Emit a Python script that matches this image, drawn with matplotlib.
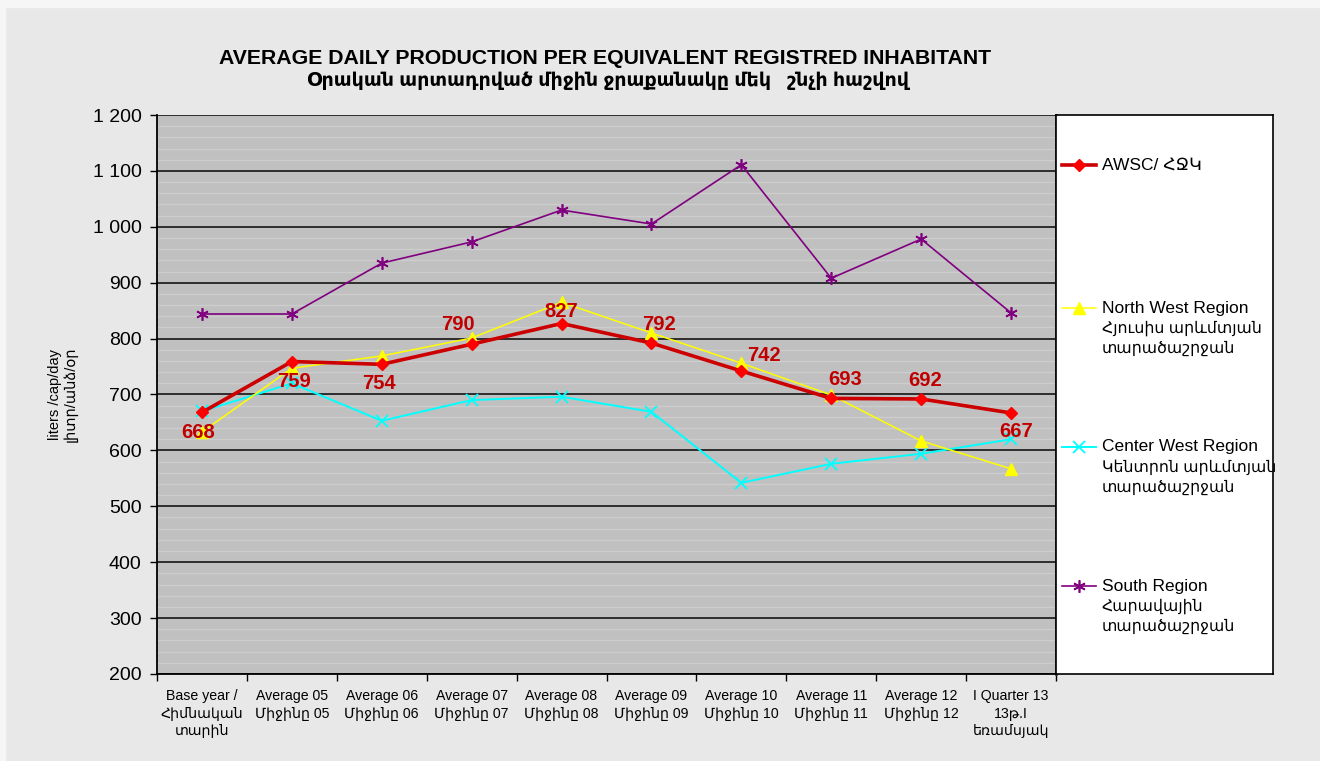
import matplotlib
matplotlib.use('Agg')
import matplotlib.pyplot as plt
from matplotlib.patches import Rectangle
from matplotlib.ticker import MultipleLocator, FixedLocator, NullFormatter

# data
categories = ['Base year /\nՀիմնական\nտարին', 'Average 05\nՄիջինը 05', 'Average 06\nՄիջինը 06',
              'Average 07\nՄիջինը 07', 'Average 08\nՄիջինը 08', 'Average 09\nՄիջինը 09',
              'Average 10\nՄիջինը 10', 'Average 11\nՄիջինը 11', 'Average 12\nՄիջինը 12',
              'I Quarter 13\n13թ.I\nեռամսյակ']
awsc = [668, 759, 754, 790, 827, 792, 742, 693, 692, 667]
north_west = [633, 747, 769, 801, 865, 810, 756, 699, 617, 567]
center_west = [670, 720, 653, 690, 696, 669, 542, 576, 594, 620]
south = [844, 844, 935, 973, 1030, 1005, 1111, 908, 978, 846]
series_names = ['AWSC/ ՀՋԿ',
                'North West Region\nՀյուսիս արևմտյան\nտարածաշրջան',
                'Center West Region\nԿենտրոն արևմտյան\nտարածաշրջան',
                'South Region\nՀարավային\nտարածաշրջան']
yticks = [200, 300, 400, 500, 600, 700, 800, 900, 1000, 1100, 1200]
ytick_labels = ['200', '300', '400', '500', '600', '700', '800', '900', '1 000', '1 100', '1 200']

W, H = 1320, 761
fig = plt.figure(figsize=(W / 100, H / 100), dpi=100)
fig.patch.set_facecolor('#e8e8e8')
# thin white margin top/left like the source picture
fig.add_artist(Rectangle((0, 1 - 7 / H), 1, 7 / H, transform=fig.transFigure, color='#f6f6f6', zorder=0))
fig.add_artist(Rectangle((0, 0), 5 / W, 1, transform=fig.transFigure, color='#f6f6f6', zorder=0))

sans = ['Liberation Sans', 'DejaVu Sans']

x0, x1, y0, y1 = 157, 1056, 115, 674
ax = fig.add_axes([x0 / W, 1 - y1 / H, (x1 - x0) / W, (y1 - y0) / H])
ax.set_facecolor('#c0c0c0')

x = list(range(len(categories)))
styles = [
    dict(color='#cc0000', lw=2.6, marker='D', ms=6, mfc='#ff0000', mec='#ff0000', zorder=6),
    dict(color='#ffff00', lw=1.1, marker='^', ms=8, mfc='#ffff00', mec='#ffff00', zorder=5),
    dict(color='#00ffff', lw=1.4, marker='x', ms=8, mew=1.3, zorder=4),
    dict(color='#800080', lw=1.2, marker=(6, 2, 0), ms=9, mew=1.2, zorder=3),
]
all_series = [awsc, north_west, center_west, south]
for vals, st in zip(all_series, styles):
    ax.plot(x, vals, **st)

ax.set_xlim(-0.5, len(categories) - 0.5)
ax.set_ylim(200, 1200)
ax.set_yticks(yticks, labels=ytick_labels, fontsize=14, family=sans)
ax.yaxis.set_minor_locator(MultipleLocator(20))
ax.grid(which='minor', axis='y', color='#cdcdcd', lw=1.0, zorder=0)
ax.grid(which='major', axis='y', color='#222222', lw=1.3, zorder=1)
ax.set_axisbelow(True)
ax.tick_params(axis='y', which='minor', length=0)
ax.tick_params(axis='y', which='major', length=5, width=1, direction='out', pad=6)

# category labels between boundary ticks
ax.xaxis.set_major_locator(FixedLocator([i + 0.5 for i in range(-1, len(categories))]))
ax.xaxis.set_major_formatter(NullFormatter())
ax.xaxis.set_minor_locator(FixedLocator(x))
ax.set_xticklabels(categories, minor=True, fontsize=10.2, family=sans, linespacing=1.3)
ax.tick_params(axis='x', which='major', length=5, width=1, direction='out')
ax.tick_params(axis='x', which='minor', length=0, pad=11)

for s in ['left', 'bottom']:
    ax.spines[s].set_color('black')
    ax.spines[s].set_linewidth(1.3)
ax.spines['top'].set_visible(False)
ax.spines['right'].set_color('#444444')
ax.spines['right'].set_linewidth(2)

ax.set_ylabel('liters /cap/day\nլիտր/անձ/օր', fontsize=10.5, family=sans, labelpad=11, linespacing=1.1)

# data labels for AWSC
label_offsets = [(-4, -20), (2, -20), (-3, -19), (-14, 20), (0, 12),
                 (8, 19), (23, 16), (14, 19), (4, 18), (5, -19)]
for xi, v, (dx, dy) in zip(x, awsc, label_offsets):
    ax.annotate(str(v), (xi, v), xytext=(dx * 0.72, dy * 0.72), textcoords='offset points',
                ha='center', va='center', fontsize=14.5, fontweight='bold',
                color='#c00000', family=sans, zorder=10)

# title
fig.text(605 / W, 1 - 58 / H, 'AVERAGE DAILY PRODUCTION PER EQUIVALENT REGISTRED INHABITANT',
         ha='center', va='center', fontsize=15.3, fontweight='bold', family=sans)
fig.text(608 / W, 1 - 81 / H, 'Օրական արտադրված միջին ջրաքանակը մեկ   շնչի հաշվով',
         ha='center', va='center', fontsize=13.7, fontweight='bold', family=sans)

# legend box
lx0, lx1 = 1056, 1273
lax = fig.add_axes([lx0 / W, 1 - y1 / H, (lx1 - lx0) / W, (y1 - y0) / H])
lax.set_facecolor('white')
lax.set_xlim(lx0, lx1)
lax.set_ylim(y1, y0)
lax.set_xticks([])
lax.set_yticks([])
for s in lax.spines.values():
    s.set_color('black')
    s.set_linewidth(1.2)
entry_y = [165, 308, 447, 586]
for name, st, ey in zip(series_names, styles, entry_y):
    lax.plot([1062, 1096], [ey, ey], color=st['color'], lw=st['lw'])
    lax.plot([1079], [ey], linestyle='none', marker=st['marker'], ms=st['ms'],
             mfc=st.get('mfc', st['color']), mec=st.get('mec', st['color']),
             mew=st.get('mew', 1), color=st['color'])
    for k, line in enumerate(name.split('\n')):
        lax.text(1102, ey + 20 * k, line, ha='left', va='center',
                 fontsize=12.5 if k == 0 else 11.3, family=sans)

fig.savefig('out.png', dpi=100, facecolor=fig.get_facecolor())
